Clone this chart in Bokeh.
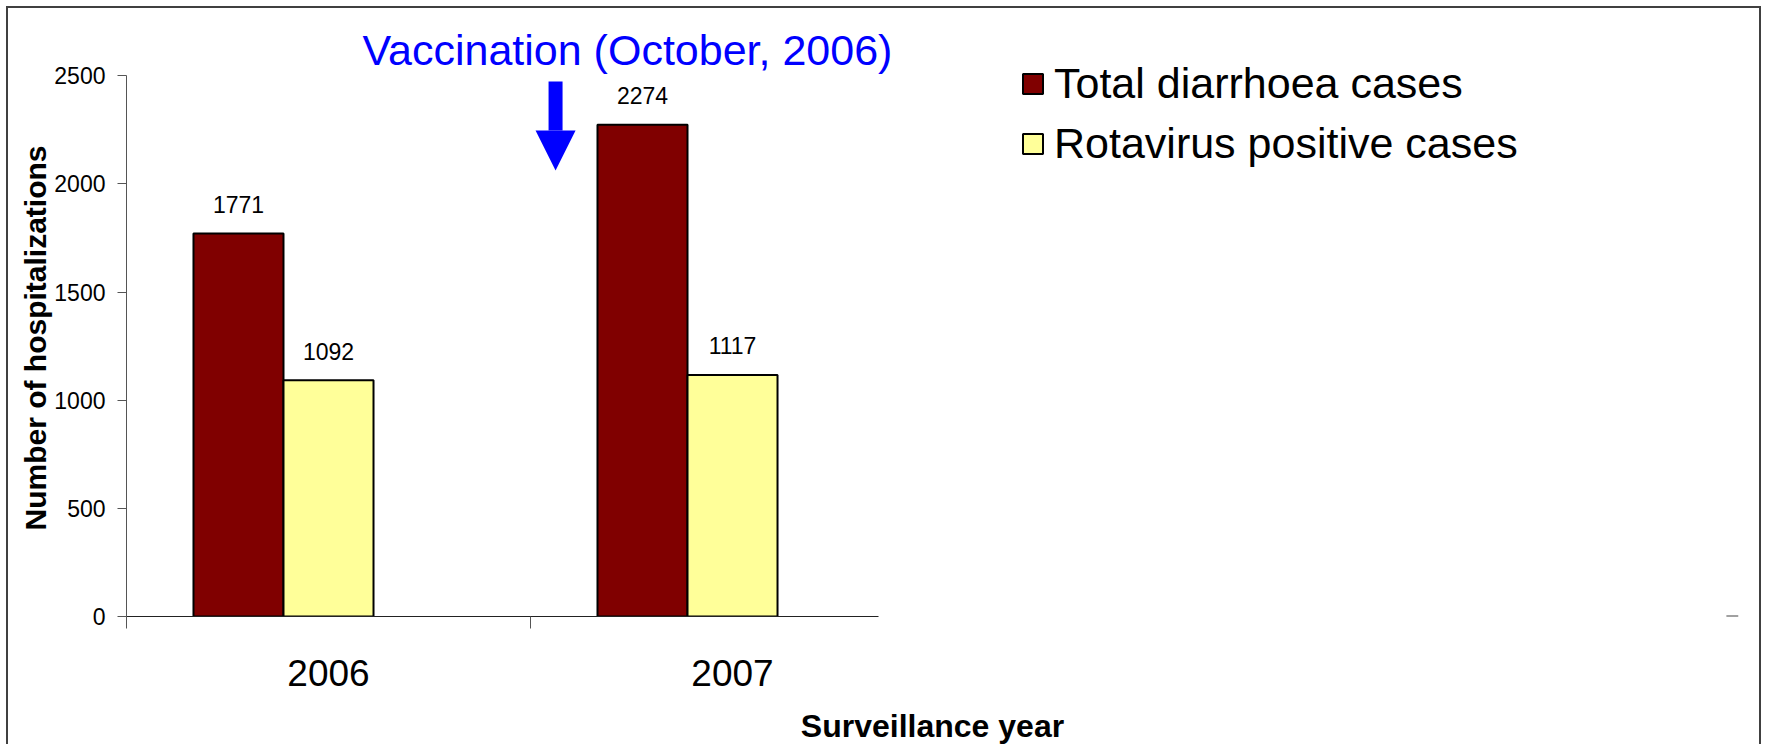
from bokeh.plotting import figure
from bokeh.models import (Range1d, FixedTicker, ColumnDataSource, Legend, LegendItem,
                          Arrow, NormalHead, LinearAxis, Title)
from bokeh.core.properties import value
from bokeh.embed import file_html
from bokeh.resources import INLINE

# ---------------- data ----------------
years = ["2006", "2007"]
total_cases = [1771, 2274]
rotavirus_cases = [1092, 1117]
series_names = ["Total diarrhoea cases", "Rotavirus positive cases"]
y_ticks = [0, 500, 1000, 1500, 2000, 2500]
annotation_text = "Vaccination (October, 2006)"
# annotation anchor (data coordinates: category index, hospitalizations)
annot_text_x, annot_text_y = 0.74, 2620
annot_arrow_x, annot_arrow_top, annot_arrow_tip = 0.562, 2474, 2062

FONT = "Liberation Sans"
W, H = 1755, 738
bar_w = 0.2228
off_total, off_rota = -0.2228, 0.0

p = figure(width=W, height=H, output_backend="svg", toolbar_location=None,
           x_range=Range1d(-0.5, 3.49), y_range=Range1d(0, 2756),
           min_border_left=118, min_border_right=25, min_border_top=12,
           min_border_bottom=130)
p.xgrid.visible = False
p.ygrid.visible = False
p.outline_line_color = None
p.background_fill_color = "white"
p.border_fill_color = "white"
p.styles = {"margin-left": "6px", "margin-top": "6px",
            "border-top": "2px solid #404040", "border-left": "2px solid #404040",
            "border-right": "2px solid #404040"}

idx = list(range(len(years)))
src_total = ColumnDataSource(dict(x=[i + off_total for i in idx], top=total_cases,
                                  label=[str(v) for v in total_cases]))
src_rota = ColumnDataSource(dict(x=[i + off_rota for i in idx], top=rotavirus_cases,
                                 label=[str(v) for v in rotavirus_cases]))

r1 = p.vbar(x="x", top="top", bottom=0, width=bar_w, source=src_total,
            fill_color="#800000", line_color="black", line_width=2)
r2 = p.vbar(x="x", top="top", bottom=0, width=bar_w, source=src_rota,
            fill_color="#FFFF99", line_color="black", line_width=2)

for src in (src_total, src_rota):
    p.text(x="x", y="top", text="label", source=src, text_align="center",
           text_baseline="alphabetic", y_offset=-29, text_font=value(FONT),
           text_font_size="23px", text_color="black")

# annotation
src_ann = ColumnDataSource(dict(x=[annot_text_x], y=[annot_text_y], t=[annotation_text]))
p.text(x="x", y="y", text="t", source=src_ann, text_align="center",
       text_baseline="alphabetic", text_font=value(FONT), text_font_size="43px",
       text_color="#0000FF")
p.add_layout(Arrow(end=NormalHead(size=40, fill_color="#0000FF", line_color="#0000FF", line_width=0),
                   x_start=annot_arrow_x, y_start=annot_arrow_top,
                   x_end=annot_arrow_x, y_end=annot_arrow_tip,
                   line_color="#0000FF", line_width=14))

# plot-area corner mark
p.segment(x0=[3.46], y0=[0], x1=[3.49], y1=[0], line_color="#444444", line_width=2)

# y axis
ya = p.yaxis[0]
ya.ticker = FixedTicker(ticks=y_ticks)
ya.bounds = (0, 2500)
ya.major_tick_out = 9
ya.major_tick_in = 0
ya.minor_tick_line_color = None
ya.axis_line_color = "#555555"
ya.major_tick_line_color = "#555555"
ya.major_label_text_font = FONT
ya.major_label_text_font_size = "23px"
ya.major_label_text_color = "black"
ya.major_label_standoff = 12

p.add_layout(Title(text="Number of hospitalizations", align="left", offset=86,
                   text_font=FONT, text_font_size="30px", text_font_style="bold",
                   text_color="black", standoff=0), "left")

# x axis (category labels)
xa = p.xaxis[0]
xa.ticker = FixedTicker(ticks=idx, minor_ticks=[-0.5, 0.5])
xa.major_label_overrides = {i: y for i, y in zip(idx, years)}
xa.bounds = (-0.5, 1.361)
xa.major_tick_out = 0
xa.major_tick_in = 0
xa.major_tick_line_color = None
xa.minor_tick_out = 12
xa.minor_tick_in = 0
xa.minor_tick_line_color = "#555555"
xa.axis_line_color = "#222222"
xa.major_label_text_font = FONT
xa.major_label_text_font_size = "37px"
xa.major_label_text_color = "black"
xa.major_label_standoff = 31

# x axis title
xt = LinearAxis(ticker=FixedTicker(ticks=[]), axis_line_color=None,
                major_tick_line_color=None, minor_tick_line_color=None,
                major_tick_out=0, major_tick_in=0, minor_tick_out=0,
                major_label_text_font_size="1px",
                axis_label="Surveillance year", axis_label_text_font=FONT,
                axis_label_text_font_size="32px", axis_label_text_font_style="bold",
                axis_label_text_color="black", axis_label_standoff=19)
p.add_layout(xt, "below")

legend = Legend(items=[LegendItem(label=series_names[0], renderers=[r1]),
                       LegendItem(label=series_names[1], renderers=[r2])],
                location=(894, 448), glyph_width=25, glyph_height=25,
                label_text_font=FONT, label_text_font_size="43px",
                label_text_color="black", label_standoff=9, spacing=11,
                padding=0, margin=0, border_line_color=None,
                background_fill_alpha=0)
p.add_layout(legend)

open("out.html", "w").write(file_html(p, INLINE))
